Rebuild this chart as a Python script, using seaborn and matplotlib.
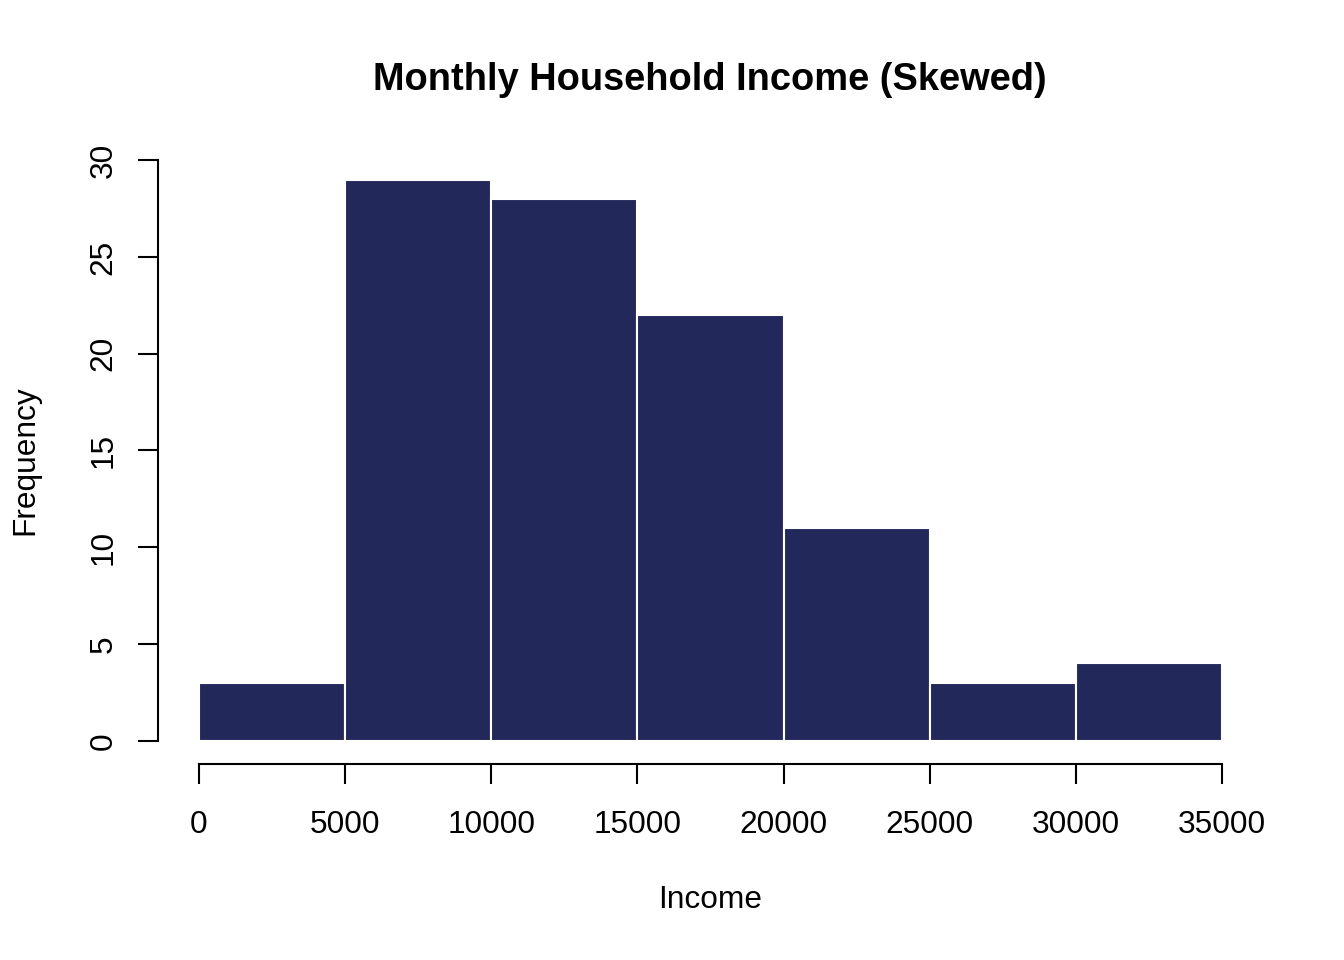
import numpy as np
import pandas as pd
import matplotlib
matplotlib.use('Agg')
import matplotlib.pyplot as plt
import seaborn as sns

# histogram bins
bin_edges = [0, 5000, 10000, 15000, 20000, 25000, 30000, 35000]
counts = [3, 29, 28, 22, 11, 3, 4]
x_ticks = [0, 5000, 10000, 15000, 20000, 25000, 30000, 35000]
y_ticks = [0, 5, 10, 15, 20, 25, 30]

mids = [(a + b) / 2 for a, b in zip(bin_edges[:-1], bin_edges[1:])]
df = pd.DataFrame({'Income': mids, 'n': counts})

sns.set_style('white')
plt.rcParams['font.family'] = ['Liberation Sans', 'DejaVu Sans']
plt.rcParams['text.color'] = 'black'

fig = plt.figure(figsize=(13.44, 9.6), dpi=100)
ax = fig.add_axes([158 / 1344, 1 - 764 / 960, (1263 - 158) / 1344, (764 - 137) / 960])

sns.histplot(data=df, x='Income', weights='n', bins=bin_edges, ax=ax,
             color='#22285A', alpha=1, edgecolor='white', linewidth=1.5)

ax.set_xlim(-1400, 36400)
ax.set_ylim(-1.2, 31.2)
ax.set_xticks(x_ticks)
ax.set_yticks(y_ticks)
ax.set_xticklabels([str(v) for v in x_ticks])
ax.set_yticklabels([str(v) for v in y_ticks], rotation=90, va='center')

for side in ['top', 'right']:
    ax.spines[side].set_visible(False)
ax.spines['left'].set_bounds(0, 30)
ax.spines['bottom'].set_bounds(0, 35000)
for side in ['left', 'bottom']:
    ax.spines[side].set_color('black')
    ax.spines[side].set_linewidth(1.5)

ax.tick_params(axis='both', length=14.4, width=1.5, color='black',
               labelsize=22.8, labelcolor='black', left=True, bottom=True)
ax.tick_params(axis='x', pad=19)
ax.tick_params(axis='y', pad=14)

ax.set_xlabel('')
ax.set_ylabel('')
fig.text(710 / 1344, 1 - 900 / 960, 'Income', ha='center', va='center',
         fontsize=22.8, color='black')
fig.text(25 / 1344, 1 - 460 / 960, 'Frequency', ha='center', va='center',
         rotation=90, fontsize=22.8, color='black')
fig.text(710 / 1344, 1 - 80 / 960, 'Monthly Household Income (Skewed)',
         ha='center', va='center', fontsize=27.4, fontweight='bold', color='black')

fig.savefig('out.png', dpi=100)
